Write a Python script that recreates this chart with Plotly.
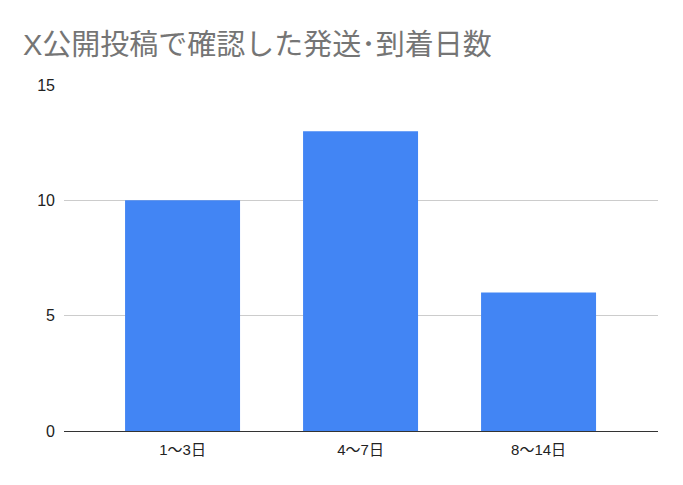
import plotly.graph_objects as go

categories = ['1〜3日', '4〜7日', '8〜14日']
counts = [10, 13, 6]
y_ticks = [0, 5, 10, 15]

# the page puts the plot 8px in from the window corner, so margins are shifted
fig = go.Figure()
fig.add_trace(go.Bar(x=categories, y=counts, marker_color='#4285F4',
                     marker_line_width=0, width=0.646))

fig.update_layout(
    width=683, height=485,
    margin=dict(l=56, r=33, t=77, b=62),
    paper_bgcolor='white', plot_bgcolor='white',
    font=dict(family='"Liberation Sans", Arial, "Noto Sans CJK JP", sans-serif', size=15, color='#222222'),
    title=dict(text='X公開投稿で確認した発送･到着日数', x=0.022, xanchor='left',
               y=0.924, yanchor='middle',
               font=dict(family='"Liberation Sans", "Noto Sans CJK JP", sans-serif', size=29, color='#757575')),
    showlegend=False,
)
fig.update_xaxes(type='category', range=[-0.666, 2.671], showgrid=False,
                 ticks='', ticklabelstandoff=8, tickfont=dict(size=15, color='#222222'))
fig.update_yaxes(range=[0, 15], tickvals=y_ticks, showgrid=True, gridcolor='#cccccc',
                 zeroline=True, zerolinecolor='#333333', zerolinewidth=1,
                 ticks='', ticklabelstandoff=8, tickfont=dict(size=16, color='#222222'))

fig.write_html("out.html")
